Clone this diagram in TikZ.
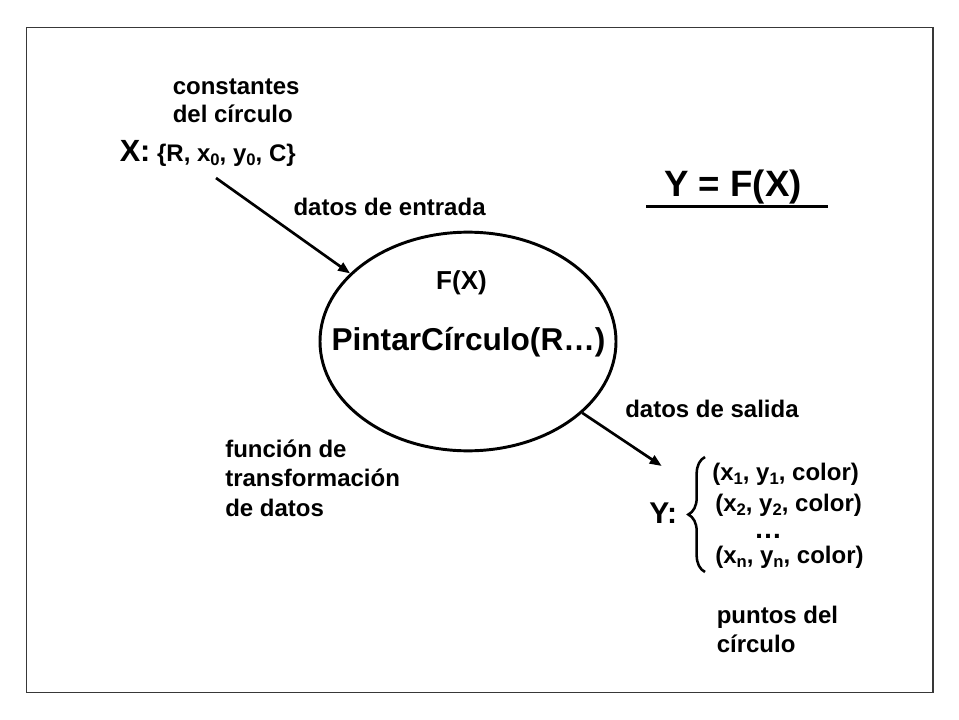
\documentclass[tikz,border=0pt]{standalone}
\usepackage{fontspec}
\setmainfont{Liberation Sans}
\usetikzlibrary{shapes.geometric,arrows.meta,decorations.pathreplacing}
\newcommand\lsub[1]{\raisebox{-3pt}{\fontsize{12.5}{12.5}\selectfont #1}}
\begin{document}
\begin{tikzpicture}[x=0.75pt,y=-0.75pt,
  lbl/.style={anchor=base west, inner sep=0pt, font=\bfseries\fontsize{18}{21}\selectfont},
  bigl/.style={anchor=base west, inner sep=0pt, font=\bfseries\fontsize{22.5}{27}\selectfont},
  conn/.style={line width=2pt, -{Triangle[length=9pt,width=7pt]}},
  frame/.style={draw=black!78, line width=0.9pt}]
\useasboundingbox (0,0) rectangle (959,720);
\fill[white] (0,0) rectangle (959,720);
\draw[frame] (26.5,27.5) rectangle (933,692.5);

% ellipse
\node[ellipse, draw, line width=2.2pt, minimum width=222pt, minimum height=164pt, inner sep=0pt] (ell) at (468,341.5) {};
\node[anchor=base, inner sep=0pt, font=\bfseries\fontsize{19.5}{22}\selectfont] (fx) at (461.5,289.5) {F(X)};
\node[anchor=base, inner sep=0pt, font=\bfseries\fontsize{23.7}{28}\selectfont] (pint) at (468.5,350) {PintarCírculo(R…)};

% input
\node[lbl] (c1) at (172.5,95) {constantes};
\node[lbl] (c2) at (172.5,123) {del círculo};
\node[lbl] (xin) at (119.5,162) {{\fontsize{23}{27}\selectfont X:} \{R, x\lsub{0}, y\lsub{0}, C\}};
\node[lbl] (de) at (293.3,215) {datos de entrada};
\coordinate (a1s) at (216,178);
\draw[conn] (a1s) -- (ell.150);

% title
\node[anchor=base west, inner sep=0pt, font=\bfseries\fontsize{27.5}{32}\selectfont] (yfx) at (664,197) {Y = F(X)};
\coordinate (ul1) at (646,206.7);
\coordinate (ul2) at (828,206.7);
\draw[line width=1.9pt] (ul1) -- (ul2);

% transformation label
\node[lbl] (t1) at (225,457) {función de};
\node[lbl] (t2) at (225,486) {transformación};
\node[lbl] (t3) at (225,516) {de datos};

% output
\node[lbl] (ds) at (625,417) {datos de salida};
\coordinate (a2e) at (661.7,466);
\draw[conn] (ell.-32) -- (a2e);
\node[bigl] (yl) at (649,523.3) {Y:};
\coordinate (bt) at (705,457);
\coordinate (bb) at (705,572);
\draw[line width=1.9pt, decorate, decoration={brace, amplitude=12.5pt}] (bb) -- (bt);
\node[lbl] (p1) at (712,480) {(x\lsub{1}, y\lsub{1}, color)};
\node[lbl] (p2) at (715,511.7) {(x\lsub{2}, y\lsub{2}, color)};
\node[anchor=base, inner sep=0pt, text height=3.5pt, text depth=0pt, font=\bfseries\fontsize{21}{24}\selectfont] (pd) at (768,538) {…};
\node[lbl] (pn) at (715,563) {(x\lsub{n}, y\lsub{n}, color)};
\node[lbl] (o1) at (716.5,623) {puntos del};
\node[lbl] (o2) at (716.5,652) {círculo};
\end{tikzpicture}
\end{document}
